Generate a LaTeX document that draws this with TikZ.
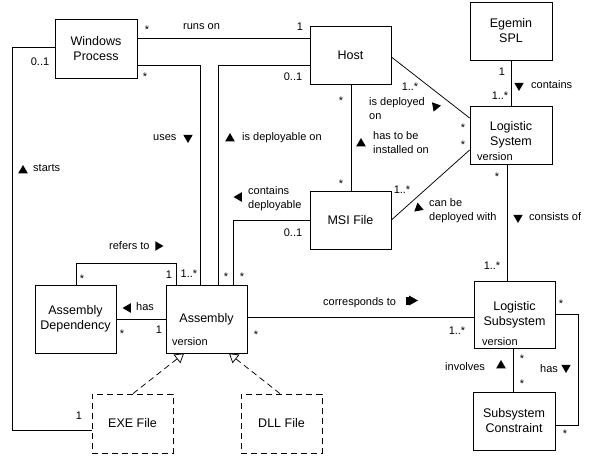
\documentclass[tikz,border=0pt]{standalone}
\usepackage{fontspec}
\setmainfont{Liberation Sans}
\usetikzlibrary{arrows.meta}

% filled direction marker: #1 centre, #2 heading (degrees, clockwise from right)
\newcommand\dirtri[2]{\fill[shift={(#1)}] (#2:5.5) -- (#2+120:5.5) -- (#2-120:5.5) -- cycle;}

\begin{document}
\begin{tikzpicture}[x=1pt,y=-1pt,
  cls/.style={draw, line width=0.75pt, align=center, inner sep=0pt,
    font=\fontsize{12.5}{15}\selectfont},
  iface/.style={cls, dash pattern=on 6pt off 4pt},
  assoc/.style={draw, line width=0.75pt},
  realize/.style={draw, line width=0.75pt, dash pattern=on 6pt off 4pt,
    -{Triangle[open,length=9pt,width=11pt]}},
  lbl/.style={inner sep=0pt, align=left, font=\fontsize{11}{14.5}\selectfont,
    text height=8pt, text depth=2.5pt},
  lbl2/.style={inner sep=0pt, align=left, font=\fontsize{11}{14.5}\selectfont},
  mult/.style={lbl},
  star/.style={lbl, yshift=-3pt},
  attr/.style={inner sep=0pt, font=\fontsize{11}{13}\selectfont, anchor=west}]

\useasboundingbox (0,0) rectangle (591,460);

% ---- classes ----
\node[cls, minimum width=82pt, minimum height=59pt] (wp)   at (96,48.5)   {Windows\\Process};
\node[cls, minimum width=81pt, minimum height=58pt] (host) at (350.5,55)  {Host};
\node[cls, minimum width=82pt, minimum height=58pt] (egm)  at (511,31)    {Egemin\\SPL};
\node[cls, minimum width=82pt, minimum height=58pt] (ls)   at (511,135)   {Logistic\\System};
\node[cls, minimum width=81pt, minimum height=58pt] (msi)  at (350.5,220) {MSI File};
\node[cls, minimum width=81pt, minimum height=67pt] (lsub) at (514.5,314.5) {Logistic\\Subsystem};
\node[cls, minimum width=82pt, minimum height=58pt] (sc)   at (514,421)   {Subsystem\\Constraint};
\node[cls, minimum width=81pt, minimum height=68pt] (asm)  at (206.5,319) {Assembly};
\node[cls, minimum width=81pt, minimum height=68pt] (ad)   at (75.5,319)  {Assembly\\Dependency};
\node[iface, minimum width=81pt, minimum height=59pt] (exe) at (132.5,423.5) {EXE File};
\node[iface, minimum width=81pt, minimum height=59pt] (dll) at (281.5,423.5) {DLL File};

% attributes
\node[attr] (lsver)   at (477,157) {version};
\node[attr] (asmver)  at (172,342) {version};
\node[attr] (lsubver) at (482,342) {version};

% ---- associations ----
% runs on
\draw[assoc] (wp.east |- 0,38) -- (host.west |- 0,38);
\node[star] (m1a) at (147,28) {*};
\node[lbl, anchor=west] (n1) at (183,27) {runs on};
\node[mult] (m1b) at (300,28) {1};

% uses
\draw[assoc] (wp.east |- 0,65) -| (asm.north -| 200,0);
\node[star] (m2a) at (145,75) {*};
\node[lbl, anchor=west] (n2) at (153,138) {uses};
\dirtri{188,137.5}{90}
\node[mult] (m2b) at (189,275) {1..*};

% is deployable on
\draw[assoc] (host.west |- 0,65) -| (asm.north -| 218,0);
\node[mult] (m3a) at (293,78) {0..1};
\dirtri{230,138.5}{-90}
\node[lbl, anchor=west] (n3) at (242,138) {is deployable on};
\node[star] (m3b) at (226,275) {*};

% contains deployable
\draw[assoc] (asm.north -| 233,0) |- (msi.west |- 0,220);
\dirtri{239,197}{180}
\node[lbl2, anchor=west] (n4) at (248,198.5) {contains\\deployable};
\node[mult] (m4a) at (293,234) {0..1};
\node[star] (m4b) at (242,275) {*};

% has to be installed on
\draw[assoc] (host.south -| 351,0) -- (msi.north -| 351,0);
\node[star] (m5a) at (341,99) {*};
\dirtri{361,143.5}{-90}
\node[lbl2, anchor=west] (n5) at (373,142.5) {has to be\\installed on};
\node[star] (m5b) at (341,182) {*};

% is deployed on
\draw[assoc] (host.east |- 0,57) -- (ls.west |- 0,118);
\node[mult] (m6a) at (410,88) {1..*};
\node[lbl2, anchor=west] (n6) at (369,108.5) {is deployed\\on};
\dirtri{435.5,106.5}{110}
\node[star] (m6b) at (463,126) {*};

% can be deployed with
\draw[assoc] (msi.east) -- (ls.west |- 0,150);
\node[mult] (m7a) at (402,191) {1..*};
\dirtri{418.5,208}{20}
\node[lbl2, anchor=west] (n7) at (429,210.5) {can be\\deployed with};
\node[star] (m7b) at (463,143) {*};

% contains
\draw[assoc] (egm.south) -- (ls.north);
\node[mult] (m8a) at (502,73) {1};
\dirtri{519,85.5}{90}
\node[lbl, anchor=west] (n8) at (531,86) {contains};
\node[mult] (m8b) at (500,97) {1..*};

% consists of
\draw[assoc] (ls.south -| 507,0) -- (lsub.north -| 507,0);
\node[star] (m9a) at (497,175) {*};
\dirtri{518,217.5}{90}
\node[lbl, anchor=west] (n9) at (529,218) {consists of};
\node[mult] (m9b) at (492,267) {1..*};

% corresponds to
\draw[assoc] (asm.east |- 0,317) -- (lsub.west |- 0,317);
\node[lbl, anchor=west] (n10) at (323,303) {corresponds to};
\fill (409,295.5) -- (418,300.5) -- (409,305.5) -- cycle;
\fill (406,296.5) rectangle (409.2,304.5);
\node[star] (m10a) at (256,333) {*};
\node[mult] (m10b) at (457,332) {1..*};

% involves
\draw[assoc] (lsub.south -| 513,0) -- (sc.north -| 513,0);
\node[lbl, anchor=west] (n11) at (445,368) {involves};
\dirtri{501,365.5}{-90}
\node[star] (m11a) at (522,357) {*};
\node[star] (m11b) at (522,382) {*};

% has (subsystem constraints)
\coordinate (hasA) at (578,314);
\coordinate (hasB) at (578,425);
\draw[assoc] (lsub.east |- hasA) -- (hasA) -- (hasB) -- (sc.east |- hasB);
\node[star] (m12a) at (561,302) {*};
\node[lbl, anchor=west] (n12) at (540,370) {has};
\dirtri{566,367.5}{90}
\node[star] (m12b) at (565,432) {*};

% has (assembly dependencies)
\draw[assoc] (ad.east |- 0,319) -- (asm.west |- 0,319);
\dirtri{128,308}{180}
\node[lbl, anchor=west] (n13) at (136,308) {has};
\node[star] (m13a) at (122,332) {*};
\node[mult] (m13b) at (159,331) {1};

% refers to
\coordinate (refA) at (76,263);
\coordinate (refB) at (176,263);
\draw[assoc] (ad.north -| refA) -- (refA) -- (refB) -- (asm.north -| refB);
\node[lbl, anchor=west] (n14) at (109,247) {refers to};
\dirtri{158,246}{0}
\node[star] (m14a) at (82,277) {*};
\node[mult] (m14b) at (169,276) {1};

% starts
\coordinate (stA) at (12,47);
\coordinate (stB) at (12,430);
\draw[assoc] (wp.west |- stA) -- (stA) -- (stB) -- (exe.west |- stB);
\node[mult] (m15a) at (40,63) {0..1};
\dirtri{23,170.5}{-90}
\node[lbl, anchor=west] (n15) at (33,169) {starts};
\node[mult] (m15b) at (79,417) {1};

% ---- realizations ----
\draw[realize] (exe.north -| 133,0) -- (asm.south -| 184,0);
\draw[realize] (dll.north -| 280,0) -- (asm.south -| 229,0);

\end{tikzpicture}
\end{document}
